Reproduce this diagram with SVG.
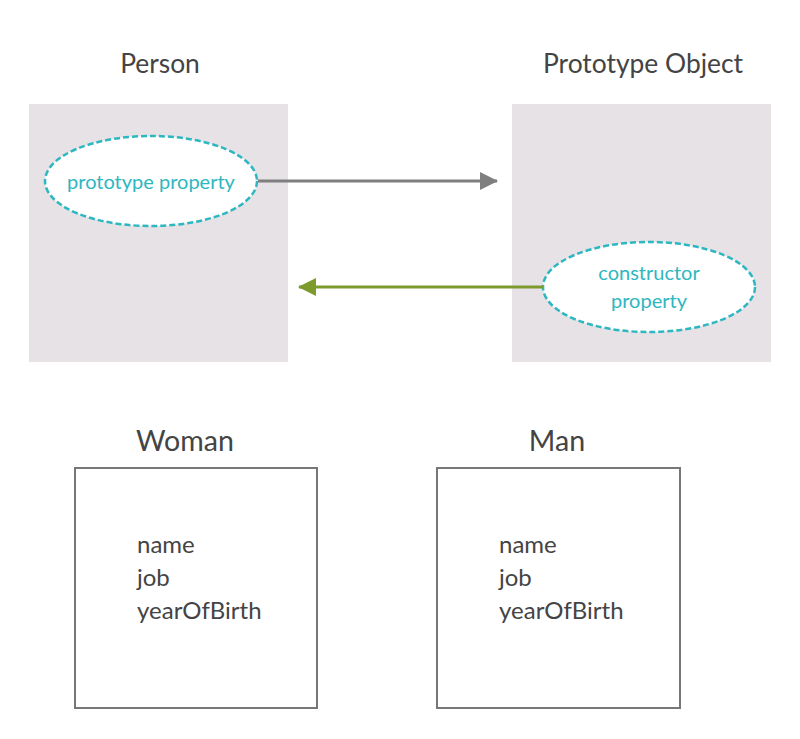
<svg xmlns="http://www.w3.org/2000/svg" width="800" height="739" viewBox="0 0 800 739">
<style>
.title{font-family:Lato,"Open Sans",sans-serif;font-size:26.4px;fill:#444;text-anchor:middle}
.big{font-family:Lato,"Open Sans",sans-serif;font-size:28.6px;fill:#444;text-anchor:middle}
.field{font-family:Lato,"Open Sans",sans-serif;font-size:24px;fill:#444}
.prop{font-family:Lato,"Open Sans",sans-serif;font-size:20px;fill:#2db7c0;text-anchor:middle}
.panel{fill:#e6e2e6}
.oval{fill:#fff;stroke:#2db7c0;stroke-width:2.5;stroke-dasharray:6 3}
.box{fill:#fff;stroke:#777;stroke-width:2}
</style>
<defs>
<marker id="ag" markerWidth="18" markerHeight="18" viewBox="0 0 18 18" refX="17" refY="9" orient="auto" markerUnits="userSpaceOnUse"><path d="M0,0 L18,9 L0,18 Z" fill="#7f7f7f"/></marker>
<marker id="agr" markerWidth="18" markerHeight="18" viewBox="0 0 18 18" refX="17" refY="9" orient="auto" markerUnits="userSpaceOnUse"><path d="M0,0 L18,9 L0,18 Z" fill="#7d9a2e"/></marker>
</defs>
<rect width="800" height="739" fill="#fff"/>
<g id="person">
<text class="title" x="160" y="73">Person</text>
<rect class="panel" x="29" y="104" width="259" height="258"/>
<g id="prototype-property">
<ellipse class="oval" cx="151" cy="181" rx="106" ry="45"/>
<text class="prop" x="151" y="189">prototype property</text>
</g>
</g>
<g id="prototype-object">
<text class="title" x="643" y="73">Prototype Object</text>
<rect class="panel" x="512" y="104" width="259" height="258"/>
<g id="constructor-property">
<ellipse class="oval" cx="649" cy="287" rx="106" ry="45"/>
<text class="prop" x="649" y="280">constructor</text>
<text class="prop" x="649" y="308">property</text>
</g>
</g>
<g id="connectors">
<line x1="258" y1="181" x2="497" y2="181" stroke="#7f7f7f" stroke-width="3" marker-end="url(#ag)"/>
<line x1="543" y1="287" x2="299" y2="287" stroke="#7d9a2e" stroke-width="3" marker-end="url(#agr)"/>
</g>
<g id="woman">
<text class="big" x="185" y="451">Woman</text>
<rect class="box" x="75" y="468" width="242" height="240"/>
<text class="field" x="137" y="553">name</text>
<text class="field" x="137" y="586">job</text>
<text class="field" x="137" y="619">yearOfBirth</text>
</g>
<g id="man">
<text class="big" x="557" y="451">Man</text>
<rect class="box" x="437" y="468" width="243" height="240"/>
<text class="field" x="499" y="553">name</text>
<text class="field" x="499" y="586">job</text>
<text class="field" x="499" y="619">yearOfBirth</text>
</g>
</svg>
